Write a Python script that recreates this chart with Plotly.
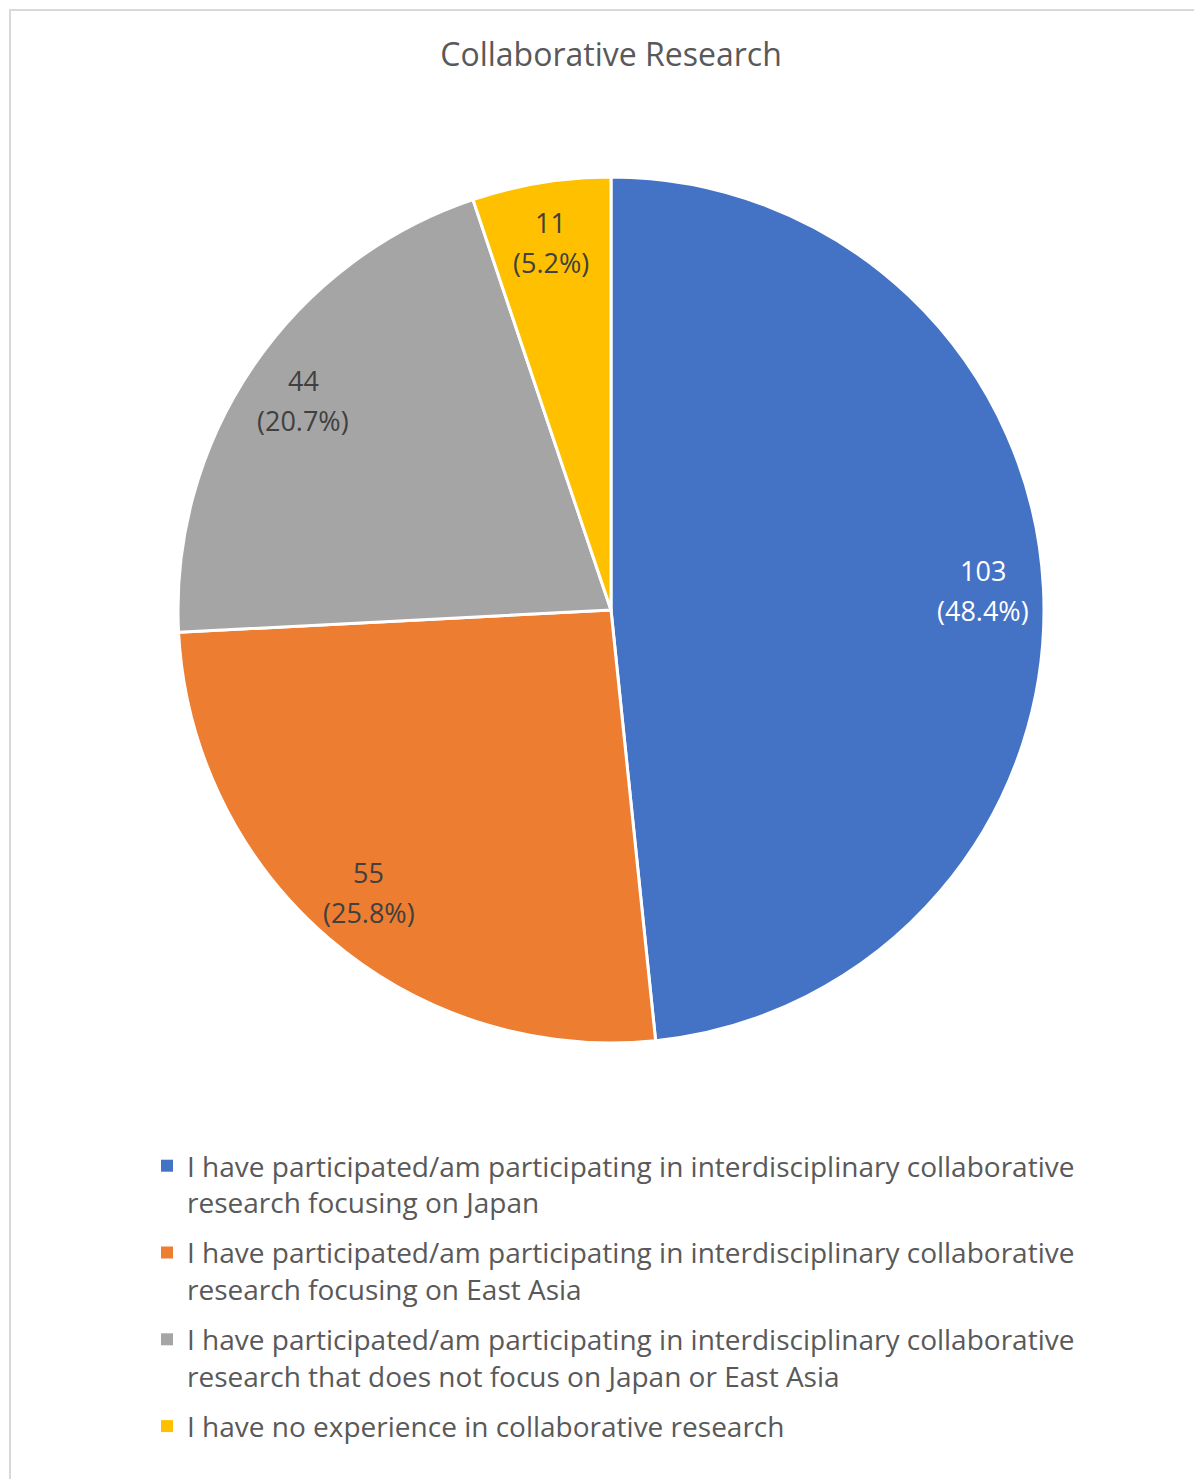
import math
import plotly.graph_objects as go

# data
categories = [
    "I have participated/am participating in interdisciplinary collaborative<br>research focusing on Japan",
    "I have participated/am participating in interdisciplinary collaborative<br>research focusing on East Asia",
    "I have participated/am participating in interdisciplinary collaborative<br>research that does not focus on Japan or East Asia",
    "I have no experience in collaborative research",
]
counts = [103, 55, 44, 11]
colors = ["#4472C4", "#ED7D31", "#A5A5A5", "#FFC000"]
label_colors = ["#FFFFFF", "#404040", "#404040", "#404040"]

# figure size; the page adds an 8px body margin, so positions are page - 8
W, H = 1202, 1479
cx, cy, r = 603, 602, 433
label_frac = 0.86

fig = go.Figure()
fig.add_trace(go.Pie(
    labels=categories,
    values=counts,
    sort=False,
    direction="clockwise",
    rotation=0,
    marker=dict(colors=colors, line=dict(color="white", width=3)),
    textinfo="none",
    hoverinfo="label+value+percent",
    showlegend=False,
    domain=dict(x=[(cx - r) / W, (cx + r) / W], y=[1 - (cy + r) / H, 1 - (cy - r) / H]),
))

# legend entries with square markers (pie's own legend swatch is too small)
for i, (name, col) in enumerate(zip(categories, colors)):
    fig.add_trace(go.Scatter(
        x=[None], y=[None], mode="markers", name=name, legendgroup=f"g{i}",
        marker=dict(symbol="square", size=12, color=col),
    ))

# data labels placed out towards the rim, like the Excel "inside end" style
total = sum(counts)
annotations = []
start = 0
for val, col in zip(counts, label_colors):
    mid = (start + val / 2) / total * 2 * math.pi
    start += val
    px = cx + label_frac * r * math.sin(mid)
    py = cy - label_frac * r * math.cos(mid)
    for txt, shift in [(f"{val}", 20), (f"({val / total:.1%})", -20)]:
        annotations.append(dict(
            x=px / W, y=1 - py / H, xref="paper", yref="paper",
            text=txt, showarrow=False, yshift=shift,
            font=dict(size=27, color=col, family="Open Sans"),
            xanchor="center", yanchor="middle",
        ))

fig.update_layout(
    width=W, height=H,
    margin=dict(l=0, r=0, t=0, b=0),
    paper_bgcolor="white",
    plot_bgcolor="white",
    font=dict(family="Open Sans", color="#595959"),
    title=dict(text="Collaborative Research", x=603 / W, xanchor="center", y=1 - 47 / H,
               yanchor="middle", font=dict(size=32, color="#595959")),
    xaxis=dict(visible=False, domain=[0, 0.01]),
    yaxis=dict(visible=False, domain=[0, 0.01]),
    showlegend=True,
    legend=dict(
        x=139 / W, xanchor="left", y=1 - 1133 / H, yanchor="top",
        font=dict(size=28, color="#595959"),
        valign="top",
        tracegroupgap=11,
        itemsizing="trace",
        itemwidth=30,
    ),
    annotations=annotations,
    shapes=[dict(type="rect", xref="paper", yref="paper",
                 x0=2 / W, x1=1.05, y0=-0.05, y1=1 - 2 / H,
                 line=dict(color="#D9D9D9", width=2))],
)

fig.write_html("out.html")
